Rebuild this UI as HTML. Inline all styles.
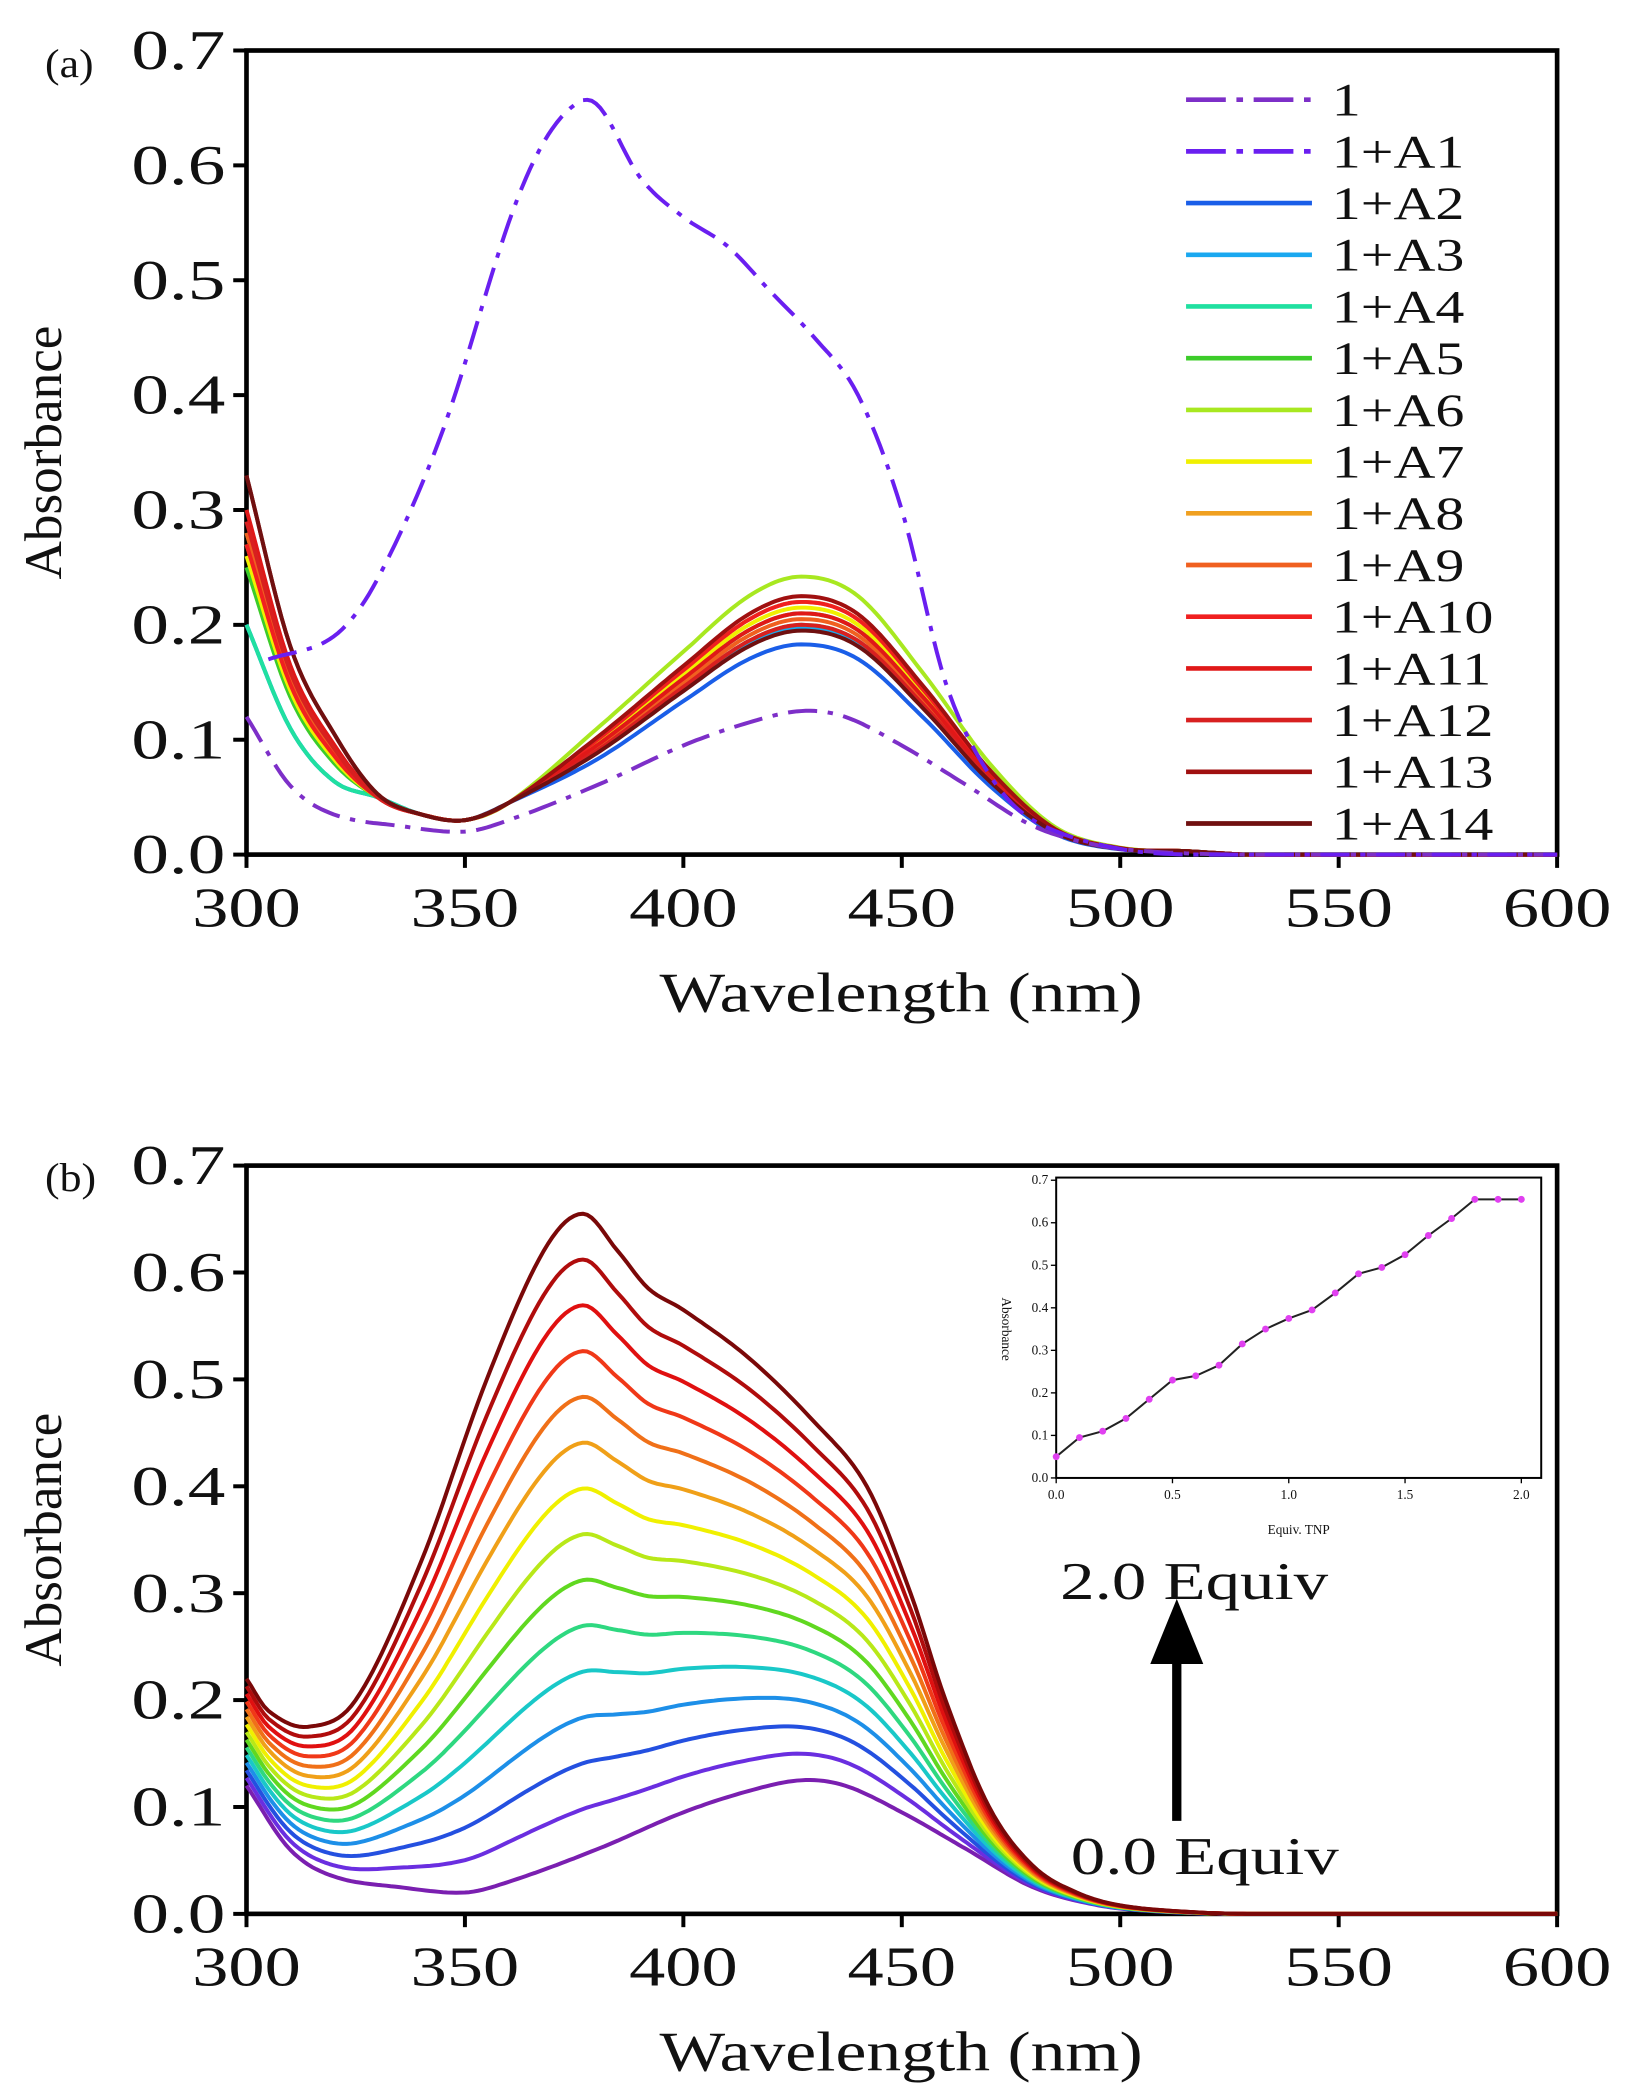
<!DOCTYPE html>
<html><head><meta charset="utf-8"><style>
html,body{margin:0;padding:0;background:#fff}
svg{display:block}
text{font-family:"Liberation Serif",serif;fill:#111}
</style></head><body>
<svg id="s" width="1630" height="2084" viewBox="0 0 1230 1568" preserveAspectRatio="none" xmlns="http://www.w3.org/2000/svg"></svg>
<script>
(function(){
const NS="http://www.w3.org/2000/svg",S=document.getElementById('s');
function el(t,a,txt){const e=document.createElementNS(NS,t);for(const k in a)e.setAttribute(k,a[k]);if(txt!==undefined)e.textContent=txt;S.appendChild(e);return e;}
function fit(e,f){try{const w=e.getComputedTextLength();if(w>0){e.setAttribute('textLength',(w*f).toFixed(1));e.setAttribute('lengthAdjust','spacingAndGlyphs');}}catch(err){}return e;}
function cr(pts,x){
 let i=0;while(i<pts.length-2&&pts[i+1][0]<x)i++;
 const p0=pts[Math.max(i-1,0)],p1=pts[i],p2=pts[i+1],p3=pts[Math.min(i+2,pts.length-1)];
 let t=(x-p1[0])/(p2[0]-p1[0]);if(t<0)t=0;if(t>1)t=1;
 const m1=(p2[1]-p0[1])/(p2[0]-p0[0]||1)*(p2[0]-p1[0]),m2=(p3[1]-p1[1])/(p3[0]-p1[0]||1)*(p2[0]-p1[0]);
 const t2=t*t,t3=t2*t;
 return (2*t3-3*t2+1)*p1[1]+(t3-2*t2+t)*m1+(-2*t3+3*t2)*p2[1]+(t3-t2)*m2;
}
function panel(y0,y7,label,ly){
 const X=l=>186+(l-300)*989/300, Y=a=>y0-(y0-y7)*a/0.7;
 el('rect',{x:186,y:y7,width:989,height:y0-y7,fill:'none',stroke:'#000','stroke-width':3.5});
 for(let i=0;i<=7;i++){const y=Y(i/10);el('line',{x1:186,x2:176,y1:y,y2:y,stroke:'#000','stroke-width':3});
  fit(el('text',{x:170,y:y+14,'text-anchor':'end','font-size':42},(i/10).toFixed(1)),1.35);}
 for(let l=300;l<=600;l+=50){const x=X(l);el('line',{x1:x,x2:x,y1:y0,y2:y0+10,stroke:'#000','stroke-width':3});
  fit(el('text',{x:x,y:y0+54,'text-anchor':'middle','font-size':42},l),1.3);}
 fit(el('text',{x:680,y:y0+118,'text-anchor':'middle','font-size':42},'Wavelength (nm)'),1.25);
 el('text',{x:0,y:0,'text-anchor':'middle','font-size':40,transform:'translate(46,'+((y0+y7)/2)+') rotate(-90)'},'Absorbance');
 fit(el('text',{x:34,y:ly,'font-size':30},label),1.1);
 return {X:X,Y:Y};
}
function path(P,pts,col,w,dash,from){
 let d='';for(let l=(from||300);l<=600;l+=1){const a=Math.max(0,cr(pts,l));d+=(d?'L':'M')+P.X(l).toFixed(1)+','+P.Y(a).toFixed(1);}
 const a={d:d,fill:'none',stroke:col,'stroke-width':w,'stroke-linejoin':'round'};if(dash)a['stroke-dasharray']=dash;el('path',a);
}
const A=panel(643,38,'(a)',58);
const base=[[300,.12],[310,.06],[320,.035],[335,.025],[350,.02],[360,.03],[380,.06],[400,.095],[415,.115],[427,.125],[437,.12],[450,.095],[465,.06],[480,.025],[495,.008],[510,.002],[530,0],[600,0]];
const a1=[[305,.17],[320,.19],[330,.24],[345,.37],[360,.55],[368,.62],[376,.655],[381,.65],[390,.59],[400,.555],[410,.53],[420,.49],[430,.45],[440,.4],[450,.3],[460,.15],[470,.07],[480,.03],[500,.005],[520,0],[600,0]];
function gen(t,p,slow){const k=slow?[.7,.5,.3]:[.55,.32,.2];
 return [[300,t],[310,t*k[0]],[320,t*k[1]],[330,Math.max(.05,t*k[2]*.8)],[340,.035],[350,.03],[360,.045],[380,p*.45],[400,p*.73],[415,p*.93],[427,p],[440,p*.93],[455,p*.65],[470,p*.33],[485,p*.1],[500,p*.025],[515,.003],[530,0],[600,0]];}
const ser=[['#1a5ee8',.2,.183],['#1aa8f0',.2,.198],['#20e0a0',.2,.2],['#3ccc2a',.25,.21],['#a8e820',.28,.242,1],['#f0f000',.26,.215],['#f0a020',.27,.22],['#f06020',.28,.205],['#f02020',.27,.22],['#e01818',.3,.21],['#d82020',.29,.2],['#a01010',.33,.225],['#701010',.33,.195]];
ser.forEach(s=>path(A,gen(s[1],s[2],s[4]),s[0],3));
path(A,base,'#7d2fc8',3,'22,8,4,8');
path(A,a1,'#6a1ff0',3,'22,8,4,8',305);
const leg=[['1','#7d2fc8',1],['1+A1','#6a1ff0',1]].concat(ser.map((s,i)=>['1+A'+(i+2),s[0],0]));
leg.forEach((g,i)=>{const y=75+i*38.9;const a={x1:895,x2:990,y1:y,y2:y,stroke:g[1],'stroke-width':3.5};if(g[2])a['stroke-dasharray']='30,8,5,8';el('line',a);
 fit(el('text',{x:1005,y:y+12,'font-size':35},g[0]),1.25);});
const B=panel(1440,877,'(b)',896);
const topC=[[300,.22],[305,.19],[314,.175],[325,.2],[340,.33],[355,.5],[368,.62],[377,.655],[385,.62],[392,.585],[400,.565],[415,.52],[430,.46],[442,.4],[452,.3],[460,.2],[470,.1],[480,.045],[490,.02],[500,.008],[515,.002],[530,0],[600,0]];
const cols=['#7a1fb0','#6a2ee0','#2450e0','#1d8fe8','#19c8c8','#2ed880','#60d820','#b8e818','#f0f000','#f0a018','#f07018','#f03818','#e01010','#b00c0c','#7a0808'];
for(let k=0;k<15;k++){const f=k/14;
 let d='';for(let l=300;l<=600;l++){const a=Math.max(0,(1-f)*cr(base,l)+f*cr(topC,l));d+=(d?'L':'M')+B.X(l).toFixed(1)+','+B.Y(a).toFixed(1);}
 el('path',{d:d,fill:'none',stroke:cols[k],'stroke-width':3,'stroke-linejoin':'round'});}
const ix0=797,ix1=1163,iy0=1112,iy1=886;
const IX=v=>797+v*(1148-797)/2, IY=v=>1112-v*(1112-888)/0.7;
el('rect',{x:ix0,y:iy1,width:ix1-ix0,height:iy0-iy1,fill:'#fff',stroke:'#000','stroke-width':1.5});
for(let i=0;i<=7;i++){const y=IY(i/10);el('line',{x1:ix0,x2:ix0-4,y1:y,y2:y,stroke:'#000'});el('text',{x:ix0-6,y:y+3,'text-anchor':'end','font-size':10},(i/10).toFixed(1));}
for(let i=0;i<=4;i++){const x=IX(i/2);el('line',{x1:x,x2:x,y1:iy0,y2:iy0+4,stroke:'#000'});el('text',{x:x,y:iy0+16,'text-anchor':'middle','font-size':10},(i/2).toFixed(1));}
el('text',{x:980,y:1154,'text-anchor':'middle','font-size':10},'Equiv. TNP');
el('text',{x:0,y:0,'text-anchor':'middle','font-size':10,transform:'translate(756,1000) rotate(90)'},'Absorbance');
const ip=[.05,.095,.11,.14,.185,.23,.24,.265,.315,.35,.375,.395,.435,.48,.495,.525,.57,.61,.655,.655,.655];
el('polyline',{points:ip.map((v,i)=>IX(i/10)+','+IY(v)).join(' '),fill:'none',stroke:'#222','stroke-width':1.5});
ip.forEach((v,i)=>el('circle',{cx:IX(i/10),cy:IY(v),r:2.6,fill:'#e040f0'}));
el('line',{x1:888,x2:888,y1:1370,y2:1245,stroke:'#000','stroke-width':7});
el('polygon',{points:'868,1252 908,1252 888,1203',fill:'#000'});
fit(el('text',{x:800,y:1203,'font-size':40},'2.0 Equiv'),1.3);
fit(el('text',{x:808,y:1410,'font-size':40},'0.0 Equiv'),1.3);
})();
</script>
</body></html>
